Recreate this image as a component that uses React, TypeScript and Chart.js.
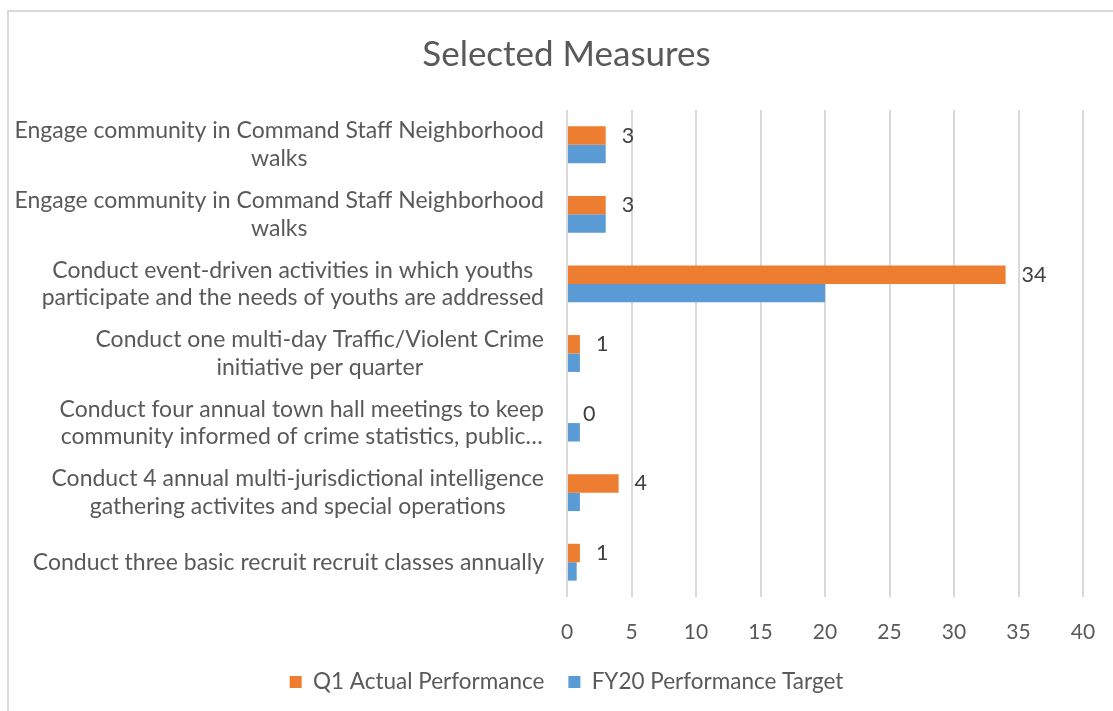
import React, { useEffect, useRef } from 'react';
import { Chart, registerables } from 'chart.js';

Chart.register(...registerables);

const categories: string[][] = [
  ['Engage community in Command Staff Neighborhood', 'walks'],
  ['Engage community in Command Staff Neighborhood', 'walks'],
  ['Conduct event-driven activities in which youths', 'participate and the needs of youths are addressed'],
  ['Conduct one multi-day Traffic/Violent Crime', 'initiative per quarter'],
  ['Conduct four annual town hall meetings to keep', 'community informed of crime statistics, public…'],
  ['Conduct 4 annual multi-jurisdictional intelligence', 'gathering activites and special operations'],
  ['Conduct three basic recruit recruit classes annually'],
];
const q1Actual = [3, 3, 34, 1, 0, 4, 1];
const fy20Target = [3, 3, 20, 1, 1, 1, 0.75];
const seriesNames = ['Q1 Actual Performance', 'FY20 Performance Target'];
const axisMin = 0;
const axisMax = 40;
const axisStep = 5;

const FONT = 'Lato';
const TEXT = '#595959';

const categoryLabelPlugin = {
  id: 'categoryLabels',
  afterDraw(chart: any) {
    const y = chart.scales.y;
    const ctx = chart.ctx;
    ctx.save();
    ctx.font = `23px ${FONT}`;
    ctx.fillStyle = TEXT;
    ctx.textBaseline = 'middle';
    ctx.textAlign = 'center';
    const right = chart.chartArea.left - 23;
    const lh = 27.5;
    categories.forEach((lines, i) => {
      const cy = y.getPixelForValue(i);
      const maxW = Math.max(...lines.map((l) => ctx.measureText(l).width));
      const cx = right - maxW / 2;
      const y0 = cy - ((lines.length - 1) * lh) / 2;
      lines.forEach((l, j) => ctx.fillText(l, cx, y0 + j * lh));
    });
    ctx.restore();
  },
};

const valueLabelPlugin = {
  id: 'valueLabels',
  afterDatasetsDraw(chart: any) {
    const ctx = chart.ctx;
    const meta = chart.getDatasetMeta(0);
    ctx.save();
    ctx.font = `21.5px ${FONT}`;
    ctx.fillStyle = '#404040';
    ctx.textBaseline = 'middle';
    ctx.textAlign = 'left';
    meta.data.forEach((bar: any, i: number) => {
      ctx.fillText(String(q1Actual[i]), bar.x + 16, bar.y);
    });
    ctx.restore();
  },
};

export default function App() {
  const ref = useRef<HTMLCanvasElement | null>(null);
  useEffect(() => {
    document.body.style.overflow = 'hidden';
    const chart = new Chart(ref.current as HTMLCanvasElement, {
      type: 'bar',
      data: {
        labels: categories.map((c) => c.join(' ')),
        datasets: [
          {
            label: seriesNames[0],
            data: q1Actual,
            backgroundColor: '#ED7D31',
            categoryPercentage: 0.53,
            barPercentage: 1,
          },
          {
            label: seriesNames[1],
            data: fy20Target,
            backgroundColor: '#5B9BD5',
            categoryPercentage: 0.53,
            barPercentage: 1,
          },
        ],
      },
      options: {
        indexAxis: 'y',
        responsive: false,
        animation: false,
        layout: { padding: { top: 0, left: 20, right: 0, bottom: 7.75 } },
        plugins: {
          title: {
            display: true,
            text: 'Selected Measures',
            color: TEXT,
            font: { family: FONT, size: 35, weight: 'normal' },
            padding: { top: 34, bottom: 34 },
          },
          legend: {
            position: 'bottom',
            labels: {
              boxWidth: 12,
              boxHeight: 12,
              padding: 24,
              color: TEXT,
              font: { family: FONT, size: 22.5 },
            },
          },
          tooltip: { enabled: false },
        },
        scales: {
          x: {
            min: axisMin,
            max: axisMax,
            ticks: {
              stepSize: axisStep,
              color: TEXT,
              font: { family: FONT, size: 21 },
              padding: 23,
            },
            grid: { color: '#d9d9d9', lineWidth: 2, drawTicks: false },
            border: { display: false },
            afterFit: (s: any) => {
              s.height = 49.75;
              s.paddingRight = 30;
            },
          },
          y: {
            ticks: { display: false },
            grid: { display: false },
            border: { display: false },
            afterFit: (s: any) => {
              s.width = 547;
            },
          },
        },
      },
      plugins: [categoryLabelPlugin, valueLabelPlugin],
    } as any);
    return () => chart.destroy();
  }, []);
  return (
    <>
      <div
        style={{
          position: 'fixed',
          left: 7,
          top: 10,
          width: 1200,
          height: 800,
          border: '2px solid #d9d9d9',
          boxSizing: 'border-box',
        }}
      />
      <canvas
        ref={ref}
        width={1113}
        height={711}
        style={{ position: 'fixed', left: 0, top: 0, width: 1113, height: 711 }}
      />
    </>
  );
}
